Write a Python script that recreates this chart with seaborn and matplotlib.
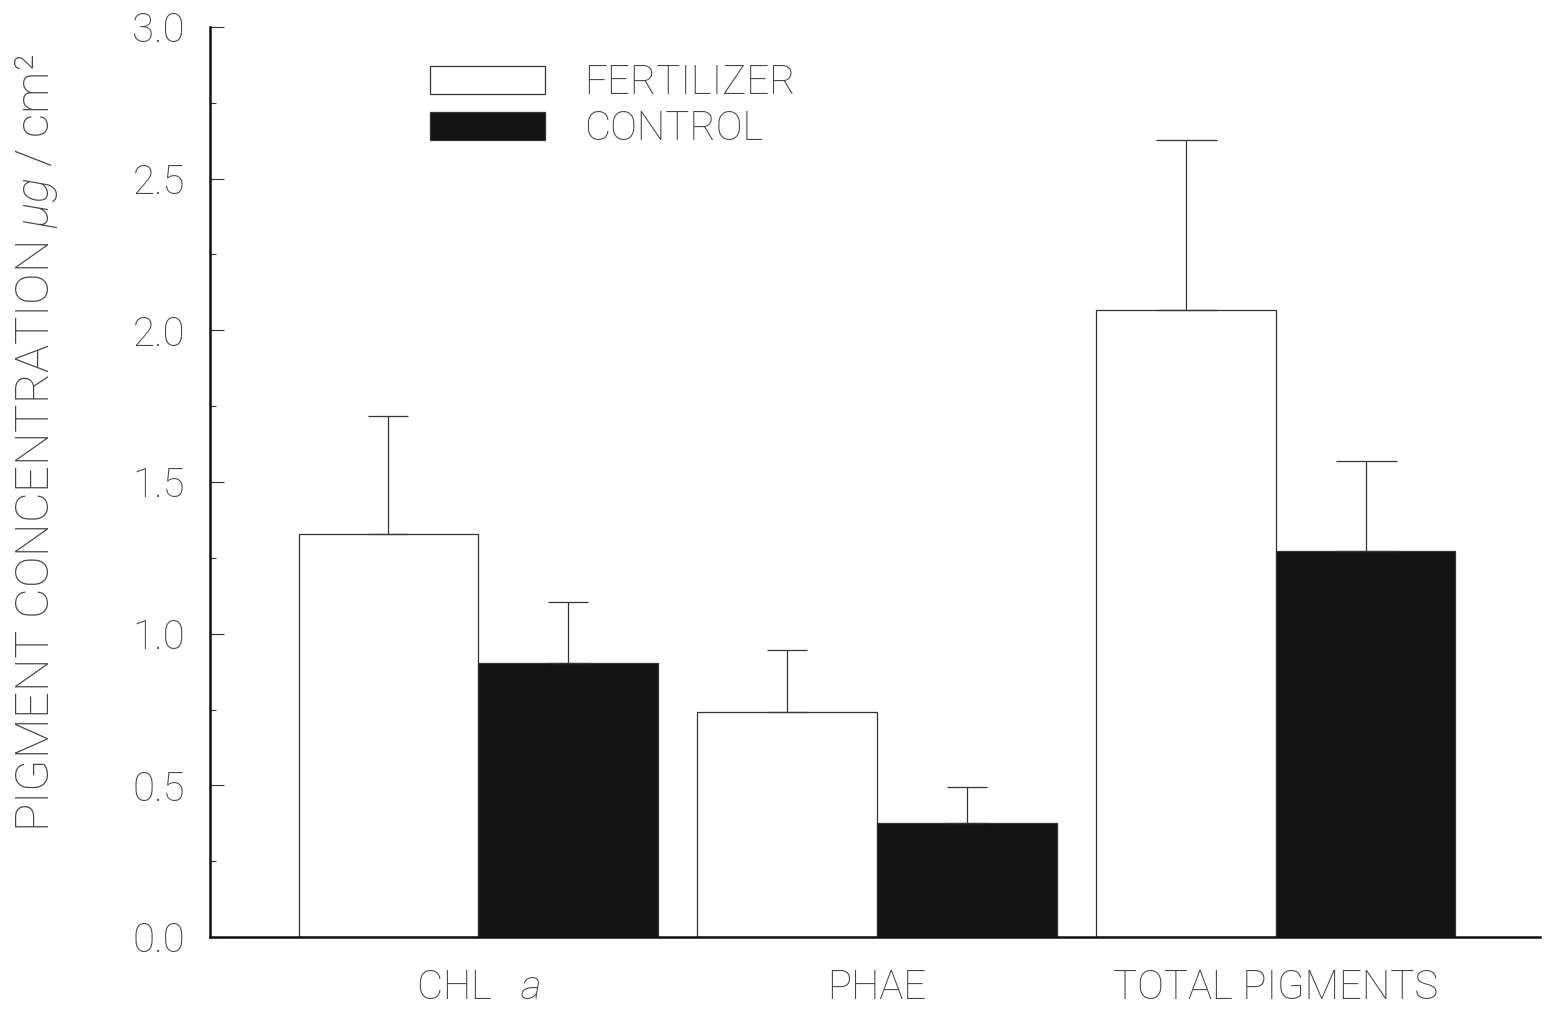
import matplotlib
matplotlib.use("Agg")
import matplotlib.pyplot as plt
import seaborn as sns
import pandas as pd
import numpy as np

# ---- data ----
categories = ["CHL   $a$", "PHAE", "TOTAL PIGMENTS"]
groups = ["FERTILIZER", "CONTROL"]
fertilizer_mean = [1.33, 0.742, 2.067]
fertilizer_err = [0.389, 0.205, 0.560]
control_mean = [0.903, 0.375, 1.274]
control_err = [0.200, 0.120, 0.296]
y_ticks = [0.0, 0.5, 1.0, 1.5, 2.0, 2.5, 3.0]

df = pd.DataFrame({
    "pigment": categories * 2,
    "treatment": [groups[0]] * 3 + [groups[1]] * 3,
    "value": fertilizer_mean + control_mean,
})
errs = {groups[0]: fertilizer_err, groups[1]: control_err}

sns.set_theme(style="white")
plt.rcParams["font.family"] = ["Roboto", "DejaVu Sans"]
plt.rcParams["font.weight"] = 100
plt.rcParams["mathtext.fontset"] = "custom"
plt.rcParams["mathtext.it"] = "Roboto:italic:thin"
plt.rcParams["mathtext.rm"] = "Roboto:thin"

text_color = "#444444"
fs = 29

fig = plt.figure(figsize=(15.44, 10.13), dpi=100)
ax = fig.add_axes([210 / 1544, 76 / 1013, 1330 / 1544, 910 / 1013])

sns.barplot(data=df, x="pigment", y="value", hue="treatment",
            hue_order=groups, order=categories,
            palette={groups[0]: "white", groups[1]: "#141414"},
            width=0.9, gap=0, edgecolor="#333333", linewidth=0.9,
            errorbar=None, legend=True, ax=ax, saturation=1)

# one-sided error bars (upper only)
cap_px = [40, 40, 61]
for cont, g in zip(ax.containers, groups):
    for i, bar in enumerate(cont):
        xc = bar.get_x() + bar.get_width() / 2
        h = bar.get_height()
        ax.errorbar([xc], [h], yerr=[[0], [errs[g][i]]], fmt="none",
                    ecolor="#333333", elinewidth=0.9,
                    capsize=cap_px[i] / 2 * 72 / 100, capthick=0.9, zorder=5)

ax.set_ylim(0, 3.0)
ax.set_xlim(-0.672, 2.662)
ax.set_yticks(y_ticks)
ax.set_yticklabels([f"{v:.1f}" for v in y_ticks])
ax.set_yticks(np.arange(0.25, 3.0, 0.5), minor=True)

for s in ["top", "right"]:
    ax.spines[s].set_visible(False)
for s in ["left", "bottom"]:
    ax.spines[s].set_color("#111111")
    ax.spines[s].set_linewidth(1.8)

ax.tick_params(axis="y", which="major", direction="in", length=10, width=0.8,
               color="#333333", pad=18, labelsize=fs, labelcolor=text_color,
               left=True)
ax.tick_params(axis="y", which="minor", direction="in", length=4, width=0.8,
               color="#333333", left=True)
ax.tick_params(axis="x", length=0, pad=23, labelsize=fs, labelcolor=text_color)

ax.set_xlabel("")
ax.set_ylabel("PIGMENT CONCENTRATION $\\mu g$ / cm²", fontsize=34,
              color=text_color, fontweight=100)
ax.yaxis.set_label_coords(-0.113, 0.543)

handles, labels = ax.get_legend_handles_labels()
ax.legend(handles, labels, loc="upper left", bbox_to_anchor=(0.1654, 0.960),
          frameon=False, fontsize=fs, handlelength=2.86, handleheight=0.70,
          handletextpad=0.97, labelspacing=0.2, borderpad=0, borderaxespad=0,
          labelcolor=text_color)

fig.savefig("out.png", dpi=100)
